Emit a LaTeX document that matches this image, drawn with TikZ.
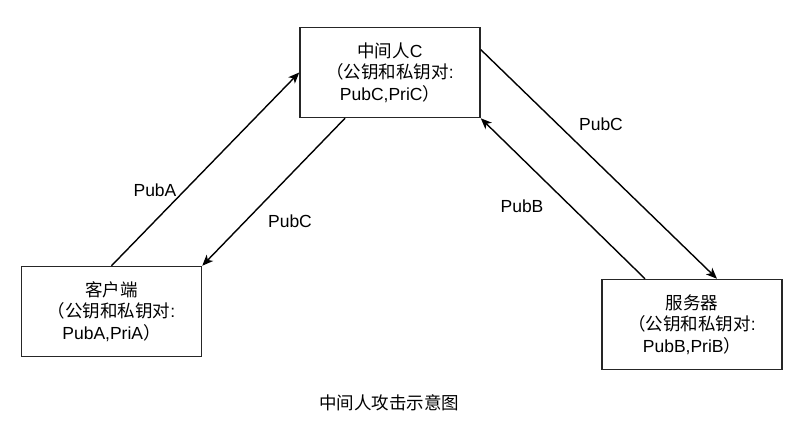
\documentclass[tikz,border=0pt]{standalone}
\usepackage{fontspec}
\setmainfont{Liberation Sans}
\newfontfamily\cjk{Noto Sans CJK SC}
\usetikzlibrary{arrows.meta,calc}
\begin{document}
\begin{tikzpicture}[x=1pt,y=-1pt,
  box/.style={draw=black!85,line width=1.5pt,minimum width=180pt,minimum height=90pt,align=center,inner sep=0pt,font=\fontsize{17.5}{21.5}\selectfont},
  lbl/.style={font=\fontsize{17.5}{21}\selectfont,inner sep=0pt},
  conn/.style={line width=1.4pt,-{Stealth[length=11pt,width=9pt,inset=3pt]}}]
\useasboundingbox (0,0) rectangle (796,423);
\node[box] (C) at (390,72.5) {{\cjk 中间人}C\\{\cjk （公钥和私钥对}:\\PubC,PriC{\cjk ）}};
\node[box] (client) at (111.5,311.5) {{\cjk 客户端}\\{\cjk （公钥和私钥对}:\\PubA,PriA{\cjk ）}};
\node[box] (server) at (692,324.5) {{\cjk 服务器}\\{\cjk （公钥和私钥对}:\\PubB,PriB{\cjk ）}};
\draw[conn] (client.north) -- (C.west);
\draw[conn] ([xshift=-45pt]C.south) -- (client.north east);
\draw[conn] ($(C.north east)!0.5!(C.east)$) -- ([xshift=25pt]server.north);
\draw[conn] ([xshift=-47pt]server.north) -- (C.south east);
\node[lbl] (l1) at (155,190) {PubA};
\node[lbl] (l2) at (290,221) {PubC};
\node[lbl] (l3) at (601,124) {PubC};
\node[lbl] (l4) at (522,206) {PubB};
\node[lbl] (cap) at (389,403) {\cjk 中间人攻击示意图};
\end{tikzpicture}
\end{document}
